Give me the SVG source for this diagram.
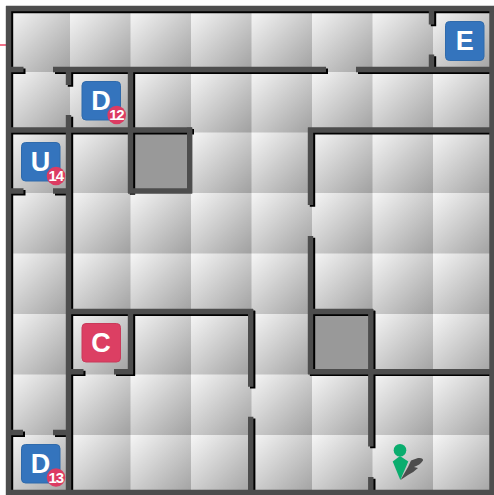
<svg xmlns="http://www.w3.org/2000/svg" xmlns:xlink="http://www.w3.org/1999/xlink" width="494" height="495" viewBox="0 0 494 495">
<style>
.lbl{font-family:"Liberation Sans",Arial,sans-serif;font-weight:700;fill:#fff;text-anchor:middle}
.big{font-size:27px}
.num{font-size:15px;letter-spacing:-1.2px}
.blue{fill:#3474bd;stroke:#2f6aab;stroke-width:1}
.red{fill:#dc3f63;stroke:#c93a5a;stroke-width:1}
.badge{fill:#dc3b62}
.w{fill:none;stroke-width:5.4}
</style>
<defs>
<linearGradient id="g" x1="0" y1="0" x2="1" y2="1">
<stop offset="0" stop-color="#f6f6f6"/><stop offset="1" stop-color="#a0a0a0"/>
</linearGradient>
<pattern id="tiles" patternUnits="userSpaceOnUse" x="9.5" y="11.5" width="60.5" height="60.5">
<rect width="60.5" height="60.5" fill="url(#g)"/>
</pattern>
<path id="inner" d="M6 69.500H23.500M53 69.500H326M356 69.500H490M68.500 69.500V85M68.500 115V490M6 130H192M130.500 67V193M6 191H23.500M53 191H68M310.500 127.500V205M310.500 236V374M308 130H490M68 311.500H253M250.700 309V386.700M250.700 416.700V490M130.500 309V374M68 371.700H83.500M114 371.700H133M6 432.500H23M53 432.500H68M308 311.500H373M370.800 309V446.500M370.800 477V490M308 371.700H490M431.500 8V24.500M431.500 54.500V70"/>
<path id="outer" d="M6 8.500H494M8.500 6V495"/>
</defs>
<rect width="494" height="495" fill="#fff"/>
<g id="floor">
<rect x="9" y="10" width="482" height="482" fill="url(#tiles)"/>
<rect x="130" y="130" width="60" height="61" fill="#999"/>
<rect x="311" y="312" width="60" height="60" fill="#999"/>
<path d="M0 45H6" stroke="#e8123a" stroke-width="1.2" fill="none"/>
</g>
<g id="connectors">
<use xlink:href="#outer" href="#outer" class="w" stroke="#000" transform="translate(2 2)"/>
<use xlink:href="#inner" href="#inner" class="w" stroke="#000" transform="translate(2 1.700)"/>
<path d="M189.700 127.500V193.500M128 191H192M492 8V495M6 492.500H494" class="w" stroke="#4d4d4d"/>
<use xlink:href="#inner" href="#inner" class="w" stroke="#4d4d4d"/>
<use xlink:href="#outer" href="#outer" class="w" stroke="#4d4d4d"/>
</g>
<g id="node-e"><rect class="blue" x="445.500" y="21.500" width="38.500" height="39" rx="4"/><text class="lbl big" x="464.700" y="50">E</text></g>
<g id="node-d12"><rect class="blue" x="82" y="81.500" width="38.500" height="38.500" rx="4"/><text class="lbl big" x="101" y="110">D</text><circle class="badge" cx="116.700" cy="115" r="9.300"/><text class="lbl num" x="116.300" y="120.300">12</text></g>
<g id="node-u14"><rect class="blue" x="21.500" y="142.500" width="38.500" height="38.500" rx="4"/><text class="lbl big" x="40.500" y="171">U</text><circle class="badge" cx="56" cy="176" r="9.300"/><text class="lbl num" x="55.700" y="181.300">14</text></g>
<g id="node-c"><rect class="red" x="82" y="323.500" width="38.500" height="38.500" rx="4"/><text class="lbl big" x="101" y="352">C</text></g>
<g id="node-d13"><rect class="blue" x="21.500" y="444.500" width="38.500" height="38.500" rx="4"/><text class="lbl big" x="40.500" y="473">D</text><circle class="badge" cx="56" cy="477.500" r="9.300"/><text class="lbl num" x="55.700" y="482.800">13</text></g>
<g id="player">
<path d="M400.500 480L408 467L411 460.500L418 458Q423.500 457.500 423 460.500Q420 465 414 467L418 468Q414 472 408 475Z" fill="#4d4d4d"/>
<circle cx="400" cy="450.300" r="6.300" fill="#0aad6e"/>
<path d="M400 456L392.700 461.500L400.300 480L408.300 461.500Z" fill="#0aad6e"/>
</g>
</svg>
